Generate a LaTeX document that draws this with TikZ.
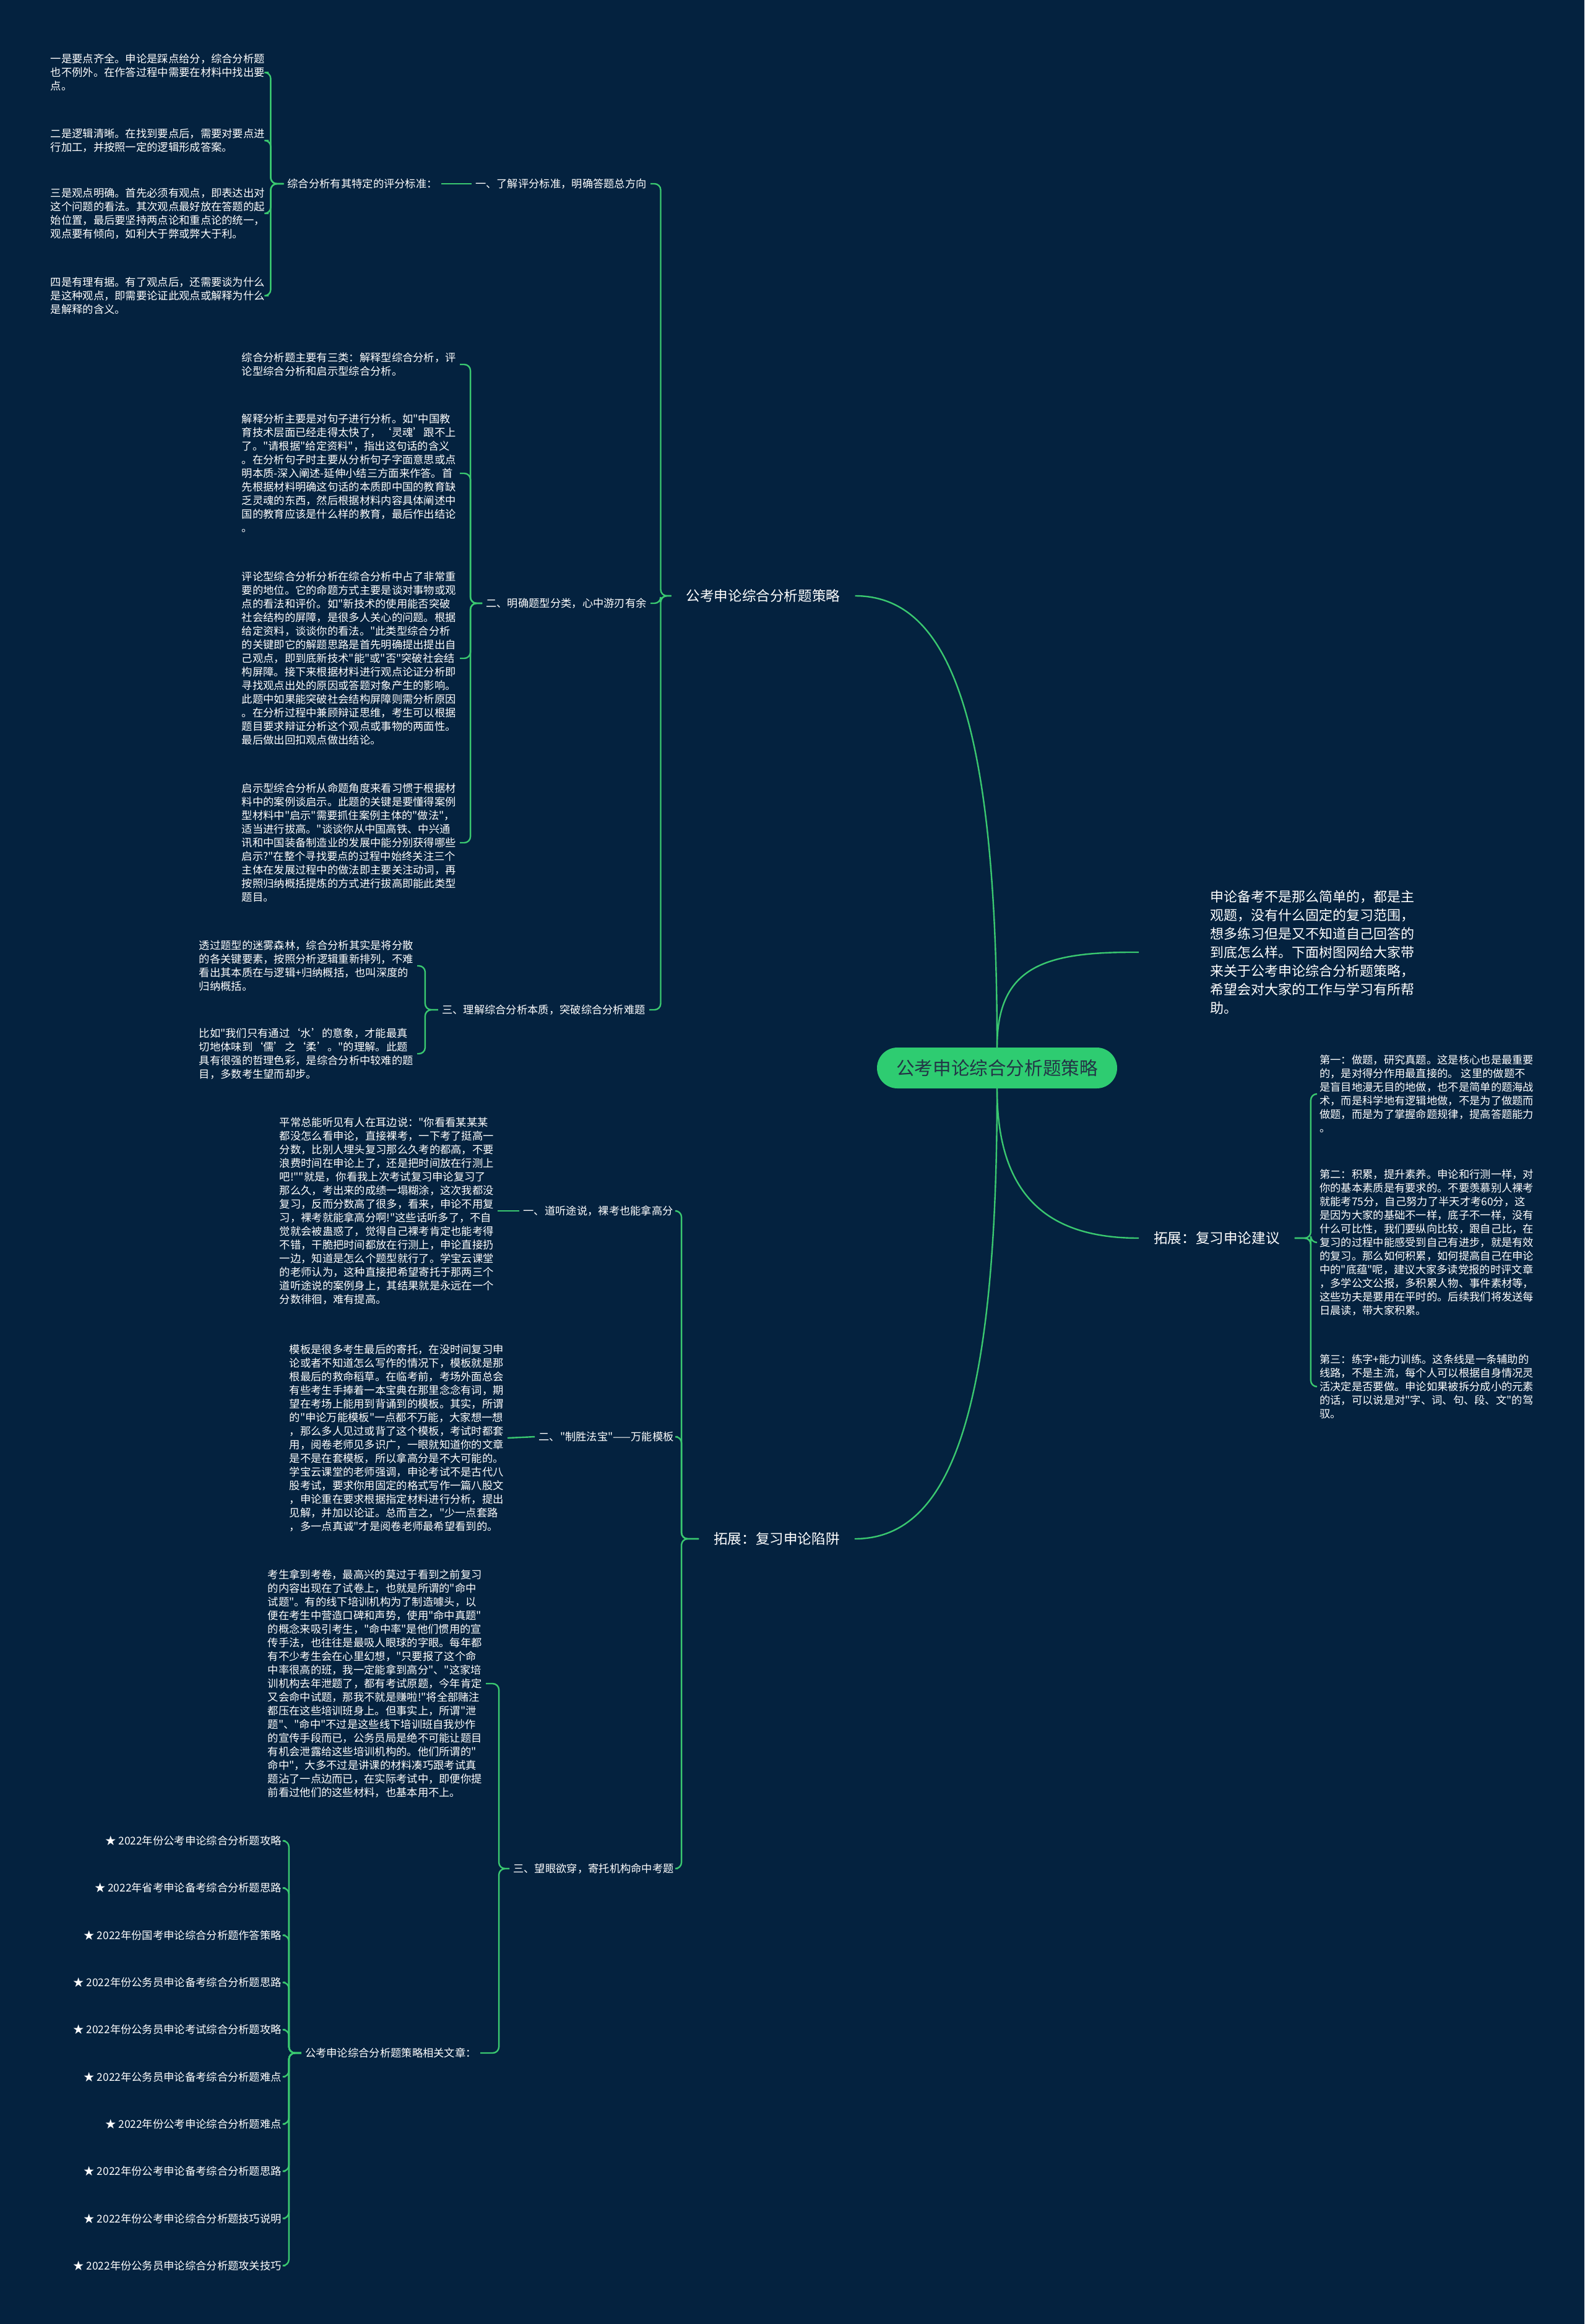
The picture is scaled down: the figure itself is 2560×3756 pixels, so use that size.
\documentclass[tikz,border=0pt]{standalone}
\usepackage{fontspec}
\newfontfamily\cjk{Noto Sans CJK SC}
\definecolor{bg}{RGB}{4,34,63}
\definecolor{lk}{RGB}{58,200,112}
\definecolor{pill}{RGB}{46,204,113}
\definecolor{pilltext}{RGB}{35,52,70}
\begin{document}
\begin{tikzpicture}[x=1pt,y=-1pt,every node/.style={inner sep=2},
  link/.style={draw=lk,line width=2.4,rounded corners=10},
  txt/.style={text=white,align=left,inner xsep=6,inner ysep=2,font=\cjk\fontsize{17.3}{22}\selectfont},
  main/.style={text=white,inner xsep=24,font=\cjk\fontsize{22.6}{28}\selectfont}]
\useasboundingbox (0,0) rectangle (2560,3756);
\fill[bg] (0,0) rectangle (2560,3756);
% centre and first level
\node[fill=pill,text=pilltext,rounded corners=33,minimum width=388,minimum height=66,font=\cjk\fontsize{29.6}{36}\selectfont] (root) at (1611,1726) {公考申论综合分析题策略};
\node[main] (b1) at (1233,963) {公考申论综合分析题策略};
\node[main] (b2) at (1255,2487) {拓展：复习申论陷阱};
\node[main] (b4) at (1966,2001) {拓展：复习申论建议};
\node[txt,anchor=west,inner xsep=115,font=\cjk\fontsize{22}{30}\selectfont] (intro) at (1840,1539) {申论备考不是那么简单的，都是主\\观题，没有什么固定的复习范围，\\想多练习但是又不知道自己回答的\\到底怎么样。下面树图网给大家带\\来关于公考申论综合分析题策略，\\希望会对大家的工作与学习有所帮\\助。};
\draw[link] (root.north) .. controls (1611,1150) and (1530,963) .. (b1.east);
\draw[link] (root.north) .. controls (1611,1560) and (1690,1538) .. (intro.west);
\draw[link] (root.south) .. controls (1611,1930) and (1690,2001) .. (b4.west);
\draw[link] (root.south) .. controls (1611,2300) and (1530,2487) .. (b2.east);
% branch: strategy
\node[txt,anchor=east] (s1) at (1051,297) {一、了解评分标准，明确答题总方向};
\node[txt,anchor=east] (s2) at (1051,975) {二、明确题型分类，心中游刃有余};
\node[txt,anchor=east] (s3) at (1049,1632) {三、理解综合分析本质，突破综合分析难题};
\foreach \s in {s1,s2,s3}
  \draw[link] (b1.west) -- ++(-17,0) |- (\s.east);
\node[txt,anchor=east] (t1) at (713,297) {综合分析有其特定的评分标准：};
\draw[link] (s1.west) -- (t1.east);
\node[txt,anchor=east] (a1) at (434,117) {一是要点齐全。申论是踩点给分，综合分析题\\也不例外。在作答过程中需要在材料中找出要\\点。};
\node[txt,anchor=east] (a2) at (434,227) {二是逻辑清晰。在找到要点后，需要对要点进\\行加工，并按照一定的逻辑形成答案。};
\node[txt,anchor=east] (a3) at (434,345) {三是观点明确。首先必须有观点，即表达出对\\这个问题的看法。其次观点最好放在答题的起\\始位置，最后要坚持两点论和重点论的统一，\\观点要有倾向，如利大于弊或弊大于利。};
\node[txt,anchor=east] (a4) at (434,478) {四是有理有据。有了观点后，还需要谈为什么\\是这种观点，即需要论证此观点或解释为什么\\是解释的含义。};
\foreach \a in {a1,a2,a3,a4}
  \draw[link] (t1.west) -- ++(-21,0) |- (\a.east);
\node[txt,anchor=east] (c1) at (743,589) {综合分析题主要有三类：解释型综合分析，评\\论型综合分析和启示型综合分析。};
\node[txt,anchor=east] (c2) at (743,765) {解释分析主要是对句子进行分析。如"中国教\\育技术层面已经走得太快了，‘灵魂’跟不上\\了。"请根据"给定资料"，指出这句话的含义\\。在分析句子时主要从分析句子字面意思或点\\明本质-深入阐述-延伸小结三方面来作答。首\\先根据材料明确这句话的本质即中国的教育缺\\乏灵魂的东西，然后根据材料内容具体阐述中\\国的教育应该是什么样的教育，最后作出结论\\。};
\node[txt,anchor=east] (c3) at (743,1064) {评论型综合分析分析在综合分析中占了非常重\\要的地位。它的命题方式主要是谈对事物或观\\点的看法和评价。如"新技术的使用能否突破\\社会结构的屏障，是很多人关心的问题。根据\\给定资料，谈谈你的看法。"此类型综合分析\\的关键即它的解题思路是首先明确提出提出自\\己观点，即到底新技术"能"或"否"突破社会结\\构屏障。接下来根据材料进行观点论证分析即\\寻找观点出处的原因或答题对象产生的影响。\\此题中如果能突破社会结构屏障则需分析原因\\。在分析过程中兼顾辩证思维，考生可以根据\\题目要求辩证分析这个观点或事物的两面性。\\最后做出回扣观点做出结论。};
\node[txt,anchor=east] (c4) at (743,1362) {启示型综合分析从命题角度来看习惯于根据材\\料中的案例谈启示。此题的关键是要懂得案例\\型材料中"启示"需要抓住案例主体的"做法"，\\适当进行拔高。"谈谈你从中国高铁、中兴通\\讯和中国装备制造业的发展中能分别获得哪些\\启示?"在整个寻找要点的过程中始终关注三个\\主体在发展过程中的做法即主要关注动词，再\\按照归纳概括提炼的方式进行拔高即能此类型\\题目。};
\foreach \c in {c1,c2,c3,c4}
  \draw[link] (s2.west) -- ++(-19,0) |- (\c.east);
\node[txt,anchor=east] (d1) at (674,1561) {透过题型的迷雾森林，综合分析其实是将分散\\的各关键要素，按照分析逻辑重新排列，不难\\看出其本质在与逻辑+归纳概括，也叫深度的\\归纳概括。};
\node[txt,anchor=east] (d2) at (674,1703) {比如"我们只有通过‘水’的意象，才能最真\\切地体味到‘儒’之‘柔’。"的理解。此题\\具有很强的哲理色彩，是综合分析中较难的题\\目，多数考生望而却步。};
\foreach \d in {d1,d2}
  \draw[link] (s3.west) -- ++(-21,0) |- (\d.east);
% branch: traps
\node[txt,anchor=east] (u1) at (1094,1957) {一、道听途说，裸考也能拿高分};
\node[txt,anchor=east] (u2) at (1095,2322) {二、"制胜法宝"——万能模板};
\node[txt,anchor=east] (u3) at (1095,3020) {三、望眼欲穿，寄托机构命中考题};
\foreach \u in {u1,u2,u3}
  \draw[link] (b2.west) -- ++(-28,0) |- (\u.east);
\node[txt,anchor=east] (v1) at (804,1957) {平常总能听见有人在耳边说："你看看某某某\\都没怎么看申论，直接裸考，一下考了挺高一\\分数，比别人埋头复习那么久考的都高，不要\\浪费时间在申论上了，还是把时间放在行测上\\吧!""就是，你看我上次考试复习申论复习了\\那么久，考出来的成绩一塌糊涂，这次我都没\\复习，反而分数高了很多，看来，申论不用复\\习，裸考就能拿高分啊!"这些话听多了，不自\\觉就会被蛊惑了，觉得自己裸考肯定也能考得\\不错，干脆把时间都放在行测上，申论直接扔\\一边，知道是怎么个题型就行了。学宝云课堂\\的老师认为，这种直接把希望寄托于那两三个\\道听途说的案例身上，其结果就是永远在一个\\分数徘徊，难有提高。};
\draw[link] (u1.west) -- (v1.east);
\node[txt,anchor=east] (v2) at (820,2324) {模板是很多考生最后的寄托，在没时间复习申\\论或者不知道怎么写作的情况下，模板就是那\\根最后的救命稻草。在临考前，考场外面总会\\有些考生手捧着一本宝典在那里念念有词，期\\望在考场上能用到背诵到的模板。其实，所谓\\的"申论万能模板"一点都不万能，大家想一想\\，那么多人见过或背了这个模板，考试时都套\\用，阅卷老师见多识广，一眼就知道你的文章\\是不是在套模板，所以拿高分是不大可能的。\\学宝云课堂的老师强调，申论考试不是古代八\\股考试，要求你用固定的格式写作一篇八股文\\，申论重在要求根据指定材料进行分析，提出\\见解，并加以论证。总而言之，"少一点套路\\，多一点真诚"才是阅卷老师最希望看到的。};
\draw[link] (u2.west) -- (v2.east);
\node[txt,anchor=east] (v3) at (785,2721) {考生拿到考卷，最高兴的莫过于看到之前复习\\的内容出现在了试卷上，也就是所谓的"命中\\试题"。有的线下培训机构为了制造噱头，以\\便在考生中营造口碑和声势，使用"命中真题"\\的概念来吸引考生，"命中率"是他们惯用的宣\\传手法，也往往是最吸人眼球的字眼。每年都\\有不少考生会在心里幻想，"只要报了这个命\\中率很高的班，我一定能拿到高分"、"这家培\\训机构去年泄题了，都有考试原题，今年肯定\\又会命中试题，那我不就是赚啦!"将全部赌注\\都压在这些培训班身上。但事实上，所谓"泄\\题"、"命中"不过是这些线下培训班自我炒作\\的宣传手段而已，公务员局是绝不可能让题目\\有机会泄露给这些培训机构的。他们所谓的"\\命中"，大多不过是讲课的材料凑巧跟考试真\\题沾了一点边而已，在实际考试中，即便你提\\前看过他们的这些材料，也基本用不上。};
\node[txt,anchor=east] (v4) at (776,3318) {公考申论综合分析题策略相关文章：};
\foreach \v in {v3,v4}
  \draw[link] (u3.west) -- ++(-17,0) |- (\v.east);
\foreach \t [count=\i from 0] in {2022年份公考申论综合分析题攻略,2022年省考申论备考综合分析题思路,2022年份国考申论综合分析题作答策略,2022年份公务员申论备考综合分析题思路,2022年份公务员申论考试综合分析题攻略,2022年公务员申论备考综合分析题难点,2022年份公考申论综合分析题难点,2022年份公考申论备考综合分析题思路,2022年份公考申论综合分析题技巧说明,2022年份公务员申论综合分析题攻关技巧}{
  \node[txt,anchor=east] (w\i) at (461,2975+76.3*\i) {★ \t};
  \draw[link] (v4.west) -- ++(-20,0) |- (w\i.east);
}
% branch: advice
\node[txt,anchor=west] (r1) at (2126,1768) {第一：做题，研究真题。这是核心也是最重要\\的，是对得分作用最直接的。 这里的做题不\\是盲目地漫无目的地做，也不是简单的题海战\\术，而是科学地有逻辑地做，不是为了做题而\\做题，而是为了掌握命题规律，提高答题能力\\。};
\node[txt,anchor=west] (r2) at (2126,2008) {第二：积累，提升素养。申论和行测一样，对\\你的基本素质是有要求的。不要羡慕别人裸考\\就能考75分，自己努力了半天才考60分，这\\是因为大家的基础不一样，底子不一样，没有\\什么可比性，我们要纵向比较，跟自己比，在\\复习的过程中能感受到自己有进步，就是有效\\的复习。那么如何积累，如何提高自己在申论\\中的"底蕴"呢，建议大家多读党报的时评文章\\，多学公文公报，多积累人物、事件素材等，\\这些功夫是要用在平时的。后续我们将发送每\\日晨读，带大家积累。};
\node[txt,anchor=west] (r3) at (2126,2241) {第三：练字+能力训练。这条线是一条辅助的\\线路，不是主流，每个人可以根据自身情况灵\\活决定是否要做。申论如果被拆分成小的元素\\的话，可以说是对"字、词、句、段、文"的驾\\驭。};
\foreach \r in {r1,r2,r3}
  \draw[link] (b4.east) -- ++(26,0) |- (\r.west);
\end{tikzpicture}
\end{document}
